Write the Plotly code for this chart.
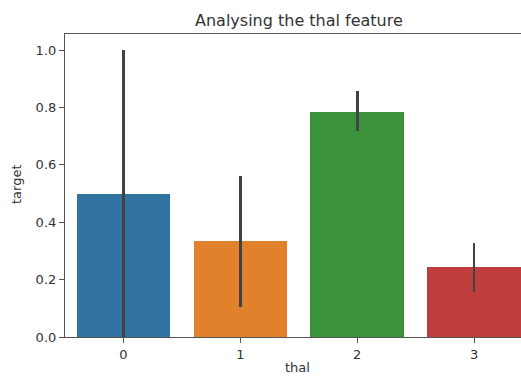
import plotly.graph_objects as go

categories = ["0", "1", "2", "3"]
means = [0.5, 0.333, 0.784, 0.243]
ci_low = [0.0, 0.105, 0.718, 0.158]
ci_high = [1.0, 0.560, 0.857, 0.326]
colors = ["#3274a1", "#e1812c", "#3a923a", "#c03d3e"]

xpos = list(range(len(categories)))
err_plus = [h - m for h, m in zip(ci_high, means)]
err_minus = [m - l for m, l in zip(means, ci_low)]

font_family = "DejaVu Sans"
text_color = "#333333"
axis_color = "#555555"

fig = go.Figure()
fig.add_trace(go.Bar(
    x=xpos, y=means, width=0.8,
    marker=dict(color=colors, line=dict(width=0)),
    error_y=dict(type="data", symmetric=False, array=err_plus, arrayminus=err_minus,
                 color="#424242", thickness=2.7, width=0),
    showlegend=False,
))

fig.update_layout(
    width=521, height=376,
    margin=dict(l=65, r=0, t=34, b=39),
    plot_bgcolor="white", paper_bgcolor="white",
    font=dict(family=font_family, size=13, color=text_color),
    bargap=0,
    xaxis=dict(
        range=[-0.5, 3.402], tickmode="array", tickvals=xpos, ticktext=categories,
        showline=True, linecolor=axis_color, linewidth=1.2, mirror=True,
        ticks="outside", ticklen=5, tickcolor=axis_color, tickwidth=1,
        showgrid=False, zeroline=False, automargin=False,
        tickfont=dict(size=13, color=text_color),
    ),
    yaxis=dict(
        range=[0, 1.056], tickvals=[0, 0.2, 0.4, 0.6, 0.8, 1.0],
        ticktext=["0.0", "0.2", "0.4", "0.6", "0.8", "1.0"],
        showline=True, linecolor=axis_color, linewidth=1.2,
        ticks="outside", ticklen=5, tickcolor=axis_color, tickwidth=1,
        showgrid=False, zeroline=False, automargin=False,
        tickfont=dict(size=13, color=text_color),
    ),
    annotations=[
        dict(text="Analysing the thal feature", xref="paper", yref="paper",
             x=(299 - 65) / 456, y=1, yshift=2, xanchor="center", yanchor="bottom",
             showarrow=False, font=dict(size=16, color=text_color)),
        dict(text="thal", xref="paper", yref="paper",
             x=(297 - 65) / 456, y=0, yshift=-39, xanchor="center", yanchor="bottom",
             showarrow=False, borderpad=0, font=dict(size=13, color=text_color)),
        dict(text="target", xref="paper", yref="paper", textangle=-90,
             x=0, xshift=-48, y=0.505, xanchor="center", yanchor="middle",
             showarrow=False, font=dict(size=13, color=text_color)),
    ],
)

fig.write_html("out.html")
